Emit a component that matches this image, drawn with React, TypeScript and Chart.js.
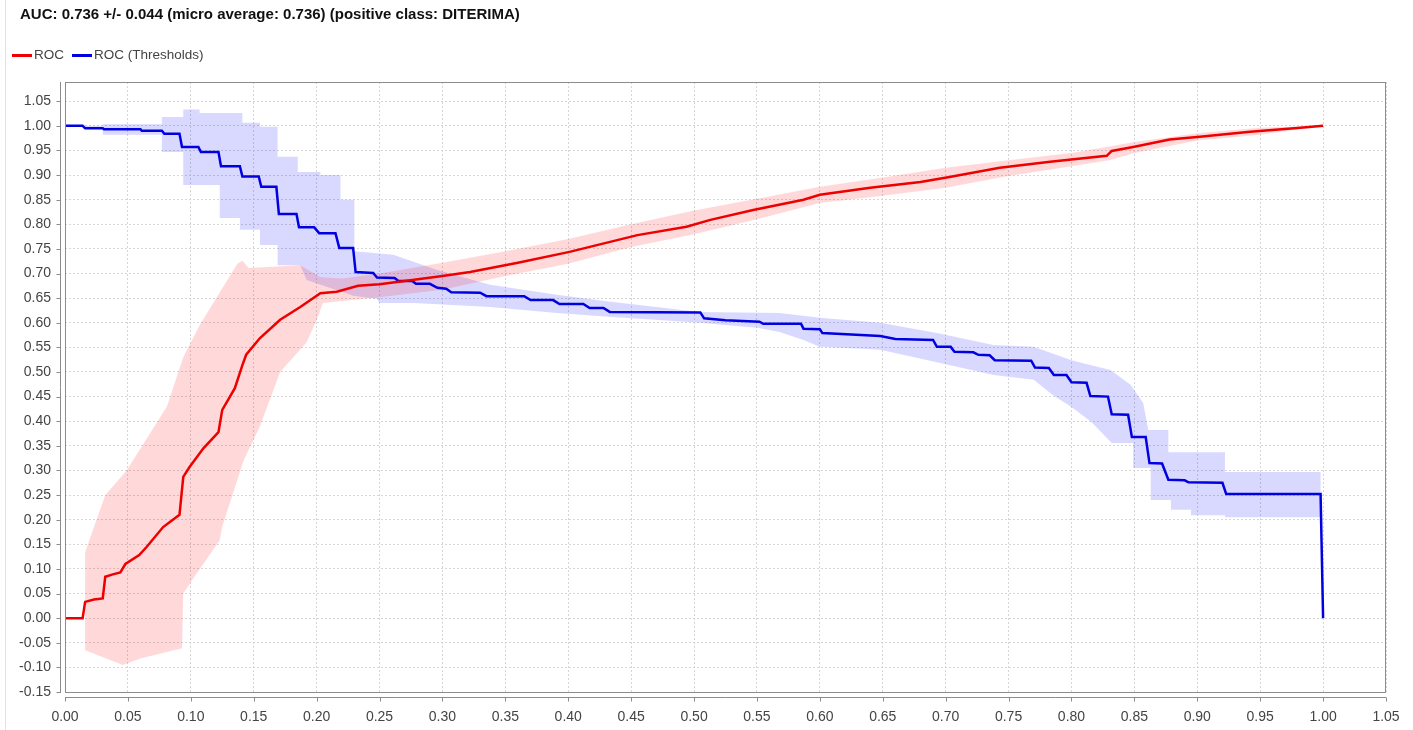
import React, { useEffect, useRef } from "react";
import { Chart, registerables } from "chart.js";

Chart.register(...registerables);

const TITLE = "AUC: 0.736 +/- 0.044 (micro average: 0.736) (positive class: DITERIMA)";
const SERIES_LABELS = ["ROC", "ROC (Thresholds)"];

const X_TICKS = [0, 0.05, 0.1, 0.15, 0.2, 0.25, 0.3, 0.35, 0.4, 0.45, 0.5, 0.55, 0.6, 0.65, 0.7, 0.75, 0.8, 0.85, 0.9, 0.95, 1.0, 1.05];
const Y_TICKS = [-0.15, -0.1, -0.05, 0, 0.05, 0.1, 0.15, 0.2, 0.25, 0.3, 0.35, 0.4, 0.45, 0.5, 0.55, 0.6, 0.65, 0.7, 0.75, 0.8, 0.85, 0.9, 0.95, 1.0, 1.05];

// ROC (red) curve
const rocX = [0, 0.014, 0.016, 0.023, 0.03, 0.032, 0.038, 0.044, 0.048, 0.059, 0.065, 0.078, 0.091, 0.094, 0.099, 0.11, 0.122, 0.125, 0.135, 0.141, 0.144, 0.155, 0.171, 0.187, 0.203, 0.216, 0.233, 0.25, 0.27, 0.3, 0.322, 0.36, 0.401, 0.455, 0.494, 0.513, 0.547, 0.587, 0.6, 0.64, 0.68, 0.703, 0.743, 0.783, 0.828, 0.832, 0.849, 0.878, 0.902, 0.942, 0.982, 1.0];
const rocY = [0, 0, 0.033, 0.038, 0.04, 0.084, 0.089, 0.093, 0.11, 0.128, 0.145, 0.185, 0.21, 0.287, 0.307, 0.345, 0.378, 0.423, 0.467, 0.514, 0.535, 0.569, 0.606, 0.632, 0.66, 0.663, 0.675, 0.678, 0.685, 0.695, 0.703, 0.722, 0.744, 0.778, 0.795, 0.809, 0.829, 0.85, 0.86, 0.874, 0.886, 0.896, 0.915, 0.927, 0.939, 0.949, 0.957, 0.972, 0.978, 0.988, 0.996, 1.0];

// ROC band (red), upper and lower edges, left to right
const rocUpperX = [0.016, 0.032, 0.049, 0.081, 0.094, 0.107, 0.137, 0.141, 0.146, 0.187, 0.203, 0.22, 0.25, 0.3, 0.35, 0.4, 0.45, 0.5, 0.55, 0.6, 0.65, 0.7, 0.75, 0.8, 0.83, 0.85, 0.9, 0.95, 1.0];
const rocUpperY = [0.134, 0.25, 0.3, 0.43, 0.53, 0.595, 0.72, 0.726, 0.711, 0.717, 0.693, 0.69, 0.7, 0.722, 0.745, 0.77, 0.8, 0.828, 0.852, 0.876, 0.895, 0.915, 0.93, 0.945, 0.958, 0.967, 0.985, 0.996, 1.0];
const rocLowerX = [0.016, 0.046, 0.06, 0.093, 0.094, 0.101, 0.123, 0.125, 0.142, 0.155, 0.171, 0.192, 0.2, 0.205, 0.25, 0.3, 0.35, 0.4, 0.45, 0.5, 0.55, 0.6, 0.65, 0.7, 0.75, 0.8, 0.83, 0.85, 0.9, 0.95, 1.0];
const rocLowerY = [-0.065, -0.095, -0.082, -0.061, 0.05, 0.077, 0.158, 0.186, 0.32, 0.39, 0.5, 0.56, 0.605, 0.64, 0.652, 0.667, 0.695, 0.72, 0.754, 0.78, 0.81, 0.843, 0.858, 0.874, 0.898, 0.918, 0.93, 0.945, 0.97, 0.982, 1.0];

// ROC (Thresholds) (blue) curve
const thrX = [0, 0.014, 0.016, 0.03, 0.031, 0.06, 0.061, 0.077, 0.079, 0.091, 0.093, 0.106, 0.108, 0.122, 0.124, 0.139, 0.141, 0.154, 0.156, 0.168, 0.17, 0.184, 0.186, 0.198, 0.202, 0.215, 0.218, 0.229, 0.231, 0.245, 0.248, 0.262, 0.265, 0.276, 0.279, 0.29, 0.296, 0.303, 0.307, 0.33, 0.335, 0.365, 0.37, 0.388, 0.393, 0.412, 0.417, 0.428, 0.433, 0.505, 0.508, 0.525, 0.552, 0.555, 0.585, 0.587, 0.6, 0.602, 0.648, 0.66, 0.69, 0.693, 0.704, 0.707, 0.722, 0.726, 0.735, 0.739, 0.768, 0.771, 0.782, 0.786, 0.796, 0.8, 0.812, 0.815, 0.829, 0.832, 0.845, 0.848, 0.859, 0.862, 0.872, 0.877, 0.89, 0.893, 0.92, 0.923, 0.998, 1.0];
const thrY = [1.0, 1.0, 0.995, 0.995, 0.993, 0.993, 0.99, 0.99, 0.984, 0.984, 0.957, 0.957, 0.947, 0.947, 0.918, 0.918, 0.897, 0.897, 0.876, 0.876, 0.821, 0.821, 0.794, 0.794, 0.782, 0.782, 0.752, 0.752, 0.703, 0.701, 0.692, 0.691, 0.685, 0.685, 0.679, 0.679, 0.671, 0.669, 0.662, 0.661, 0.654, 0.654, 0.646, 0.646, 0.638, 0.638, 0.63, 0.63, 0.622, 0.621, 0.609, 0.605, 0.602, 0.598, 0.598, 0.588, 0.587, 0.579, 0.573, 0.567, 0.565, 0.551, 0.551, 0.541, 0.54, 0.535, 0.534, 0.524, 0.523, 0.509, 0.508, 0.494, 0.494, 0.479, 0.478, 0.451, 0.45, 0.414, 0.413, 0.368, 0.368, 0.315, 0.314, 0.281, 0.28, 0.276, 0.275, 0.252, 0.252, 0.0];

// Thresholds band (blue), upper and lower edges, left to right
const thrUpperX = [0, 0.03, 0.03, 0.077, 0.077, 0.094, 0.094, 0.107, 0.107, 0.141, 0.141, 0.155, 0.155, 0.169, 0.169, 0.185, 0.185, 0.203, 0.203, 0.219, 0.219, 0.23, 0.23, 0.261, 0.296, 0.338, 0.391, 0.432, 0.505, 0.568, 0.6, 0.648, 0.693, 0.738, 0.77, 0.8, 0.831, 0.847, 0.857, 0.861, 0.877, 0.877, 0.922, 0.922, 0.998];
const thrUpperY = [1.0, 1.0, 1.003, 1.003, 1.018, 1.018, 1.033, 1.033, 1.026, 1.026, 1.006, 1.006, 0.998, 0.998, 0.937, 0.937, 0.906, 0.906, 0.9, 0.9, 0.85, 0.85, 0.745, 0.738, 0.707, 0.677, 0.657, 0.643, 0.622, 0.62, 0.61, 0.6, 0.579, 0.555, 0.551, 0.524, 0.504, 0.474, 0.437, 0.382, 0.382, 0.337, 0.337, 0.297, 0.297];
const thrLowerX = [0, 0.03, 0.03, 0.077, 0.077, 0.094, 0.094, 0.123, 0.123, 0.139, 0.139, 0.155, 0.155, 0.169, 0.169, 0.187, 0.192, 0.229, 0.248, 0.25, 0.277, 0.338, 0.391, 0.432, 0.505, 0.55, 0.568, 0.587, 0.6, 0.648, 0.693, 0.738, 0.77, 0.785, 0.8, 0.816, 0.832, 0.849, 0.849, 0.863, 0.863, 0.879, 0.879, 0.895, 0.895, 0.922, 0.922, 0.998];
const thrLowerY = [1.0, 0.995, 0.982, 0.982, 0.947, 0.947, 0.88, 0.88, 0.813, 0.813, 0.789, 0.789, 0.758, 0.758, 0.717, 0.717, 0.687, 0.655, 0.648, 0.64, 0.64, 0.632, 0.62, 0.612, 0.6, 0.59, 0.581, 0.565, 0.551, 0.545, 0.52, 0.494, 0.484, 0.453, 0.429, 0.398, 0.356, 0.356, 0.305, 0.305, 0.24, 0.24, 0.22, 0.22, 0.209, 0.209, 0.205, 0.205];

const RED = "rgb(238,0,0)";
const BLUE = "rgb(0,0,225)";
const FONT = '"Liberation Sans", Arial, sans-serif';

function pts(xs: number[], ys: number[]) {
  return xs.map((x, i) => ({ x, y: ys[i] }));
}
function polygon(ux: number[], uy: number[], lx: number[], ly: number[]) {
  return pts(ux, uy).concat(pts(lx, ly).reverse());
}

const framePlugin = {
  id: "frame",
  afterDraw(chart: any) {
    const ctx = chart.ctx as CanvasRenderingContext2D;
    const a = chart.chartArea;
    const xs = chart.scales.x;
    const ys = chart.scales.y;
    ctx.save();
    // panel edge
    ctx.strokeStyle = "#e2e2e2";
    ctx.lineWidth = 1;
    ctx.beginPath();
    ctx.moveTo(5.5, 0);
    ctx.lineTo(5.5, chart.height);
    ctx.stroke();
    // plot border
    ctx.strokeStyle = "#8c8c8c";
    ctx.strokeRect(Math.round(a.left) + 0.5, Math.round(a.top) + 0.5, Math.round(a.right - a.left) - 1, Math.round(a.bottom - a.top));
    // y axis line + ticks
    const yl = Math.round(a.left) - 5 + 0.5;
    ctx.beginPath();
    ctx.moveTo(yl, a.top);
    ctx.lineTo(yl, a.bottom + 1);
    Y_TICKS.forEach((v) => {
      const p = Math.round(ys.getPixelForValue(v)) + 0.5;
      ctx.moveTo(yl - 4, p);
      ctx.lineTo(yl, p);
    });
    // x axis line + ticks
    const xl = Math.round(a.bottom) + 5 + 0.5;
    ctx.moveTo(a.left, xl);
    ctx.lineTo(a.right, xl);
    X_TICKS.forEach((v) => {
      const p = Math.round(xs.getPixelForValue(v)) + 0.5;
      ctx.moveTo(p, xl);
      ctx.lineTo(p, xl + 4);
    });
    ctx.stroke();

    // title
    ctx.fillStyle = "#111";
    ctx.textBaseline = "middle";
    ctx.textAlign = "left";
    ctx.font = "bold 15px " + FONT;
    ctx.fillText(TITLE, 20, 15);

    // legend
    ctx.font = "13.5px " + FONT;
    ctx.fillStyle = "#444";
    const ly = 55.5;
    let x = 12;
    const colors = [RED, BLUE];
    SERIES_LABELS.forEach((lab, i) => {
      ctx.strokeStyle = colors[i];
      ctx.lineWidth = 3;
      ctx.beginPath();
      ctx.moveTo(x, ly);
      ctx.lineTo(x + 20, ly);
      ctx.stroke();
      ctx.fillText(lab, x + 22, ly);
      x += 22 + ctx.measureText(lab).width + 8;
    });
    ctx.restore();
  },
};

export default function App() {
  const ref = useRef<HTMLCanvasElement>(null);
  useEffect(() => {
    document.body.style.margin = "0";
    const fmt = (v: any) => {
      const n = Math.round(Number(v) * 100) / 100;
      return (n === 0 ? 0 : n).toFixed(2);
    };
    const gridCommon = { color: "#d6d6d6", lineWidth: 1, drawTicks: false };
    const chart = new Chart(ref.current as HTMLCanvasElement, {
      type: "line",
      data: {
        datasets: [
          {
            label: SERIES_LABELS[0],
            data: pts(rocX, rocY),
            borderColor: RED,
            borderWidth: 2.5,
            pointRadius: 0,
            fill: false,
            tension: 0,
          },
          {
            label: SERIES_LABELS[1],
            data: pts(thrX, thrY),
            borderColor: BLUE,
            borderWidth: 2.5,
            pointRadius: 0,
            fill: false,
            tension: 0,
          },
          {
            label: "ROC band",
            data: polygon(rocUpperX, rocUpperY, rocLowerX, rocLowerY),
            borderWidth: 0,
            borderColor: "rgba(0,0,0,0)",
            backgroundColor: "rgba(255,0,0,0.15)",
            pointRadius: 0,
            fill: "shape",
            tension: 0,
          },
          {
            label: "Thresholds band",
            data: polygon(thrUpperX, thrUpperY, thrLowerX, thrLowerY),
            borderWidth: 0,
            borderColor: "rgba(0,0,0,0)",
            backgroundColor: "rgba(0,0,255,0.15)",
            pointRadius: 0,
            fill: "shape",
            tension: 0,
          },
        ] as any,
      },
      options: {
        responsive: false,
        animation: false,
        events: [],
        layout: { padding: { left: 0, top: 82, right: 27, bottom: 0 } },
        plugins: {
          legend: { display: false },
          title: { display: false },
          tooltip: { enabled: false },
        },
        scales: {
          x: {
            type: "linear",
            min: 0,
            max: 1.05,
            afterBuildTicks: (s: any) => {
              s.ticks = X_TICKS.map((v) => ({ value: v }));
            },
            afterFit: (s: any) => {
              s.height = 38;
              s.paddingLeft = 0;
              s.paddingRight = 0;
            },
            grid: gridCommon,
            border: { display: false, dash: [2, 2] },
            ticks: {
              callback: fmt,
              autoSkip: false,
              maxRotation: 0,
              padding: 17,
              color: "#444",
              font: { family: FONT, size: 14 },
            },
          },
          y: {
            type: "linear",
            min: -0.15,
            max: 1.089,
            afterBuildTicks: (s: any) => {
              s.ticks = Y_TICKS.map((v) => ({ value: v }));
            },
            afterFit: (s: any) => {
              s.width = 65;
              s.paddingTop = 0;
              s.paddingBottom = 0;
            },
            grid: gridCommon,
            border: { display: false, dash: [2, 2] },
            ticks: {
              callback: fmt,
              autoSkip: false,
              padding: 14,
              color: "#444",
              font: { family: FONT, size: 14 },
            },
          },
        },
      } as any,
      plugins: [framePlugin],
    });
    return () => chart.destroy();
  }, []);
  return (
    <div style={{ position: "relative", width: 1413, height: 730 }}>
      <canvas ref={ref} width={1413} height={730} style={{ display: "block", width: 1413, height: 730 }} />
    </div>
  );
}
